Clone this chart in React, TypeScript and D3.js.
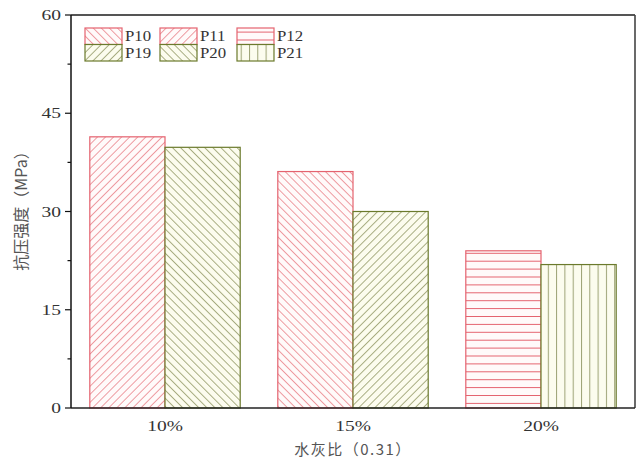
import React from "react";
import * as d3 from "d3";

// Categories (water-cement ratio replacement levels) and strengths in MPa
const categories = ["10%", "15%", "20%"];
const redValues = [41.4, 36.1, 24.0];
const greenValues = [39.8, 30.0, 21.9];
const redBarPatterns = ["fwd", "back", "horiz"];
const greenBarPatterns = ["back", "fwd", "vert"];

const yTicks = [0, 15, 30, 45, 60];
const yMinorTicks = [7.5, 22.5, 37.5, 52.5];

const legendLabels = ["P10", "P11", "P12", "P19", "P20", "P21"];
const legendPatterns = ["back", "fwd", "horiz", "fwd", "back", "vert"];
const legendColors = ["red", "red", "red", "green", "green", "green"];

const W = 638;
const H = 460;
const M = { left: 71, right: 635, top: 15, bottom: 408 };

const COLORS: Record<string, { stroke: string; hatch: string; fill: string }> = {
  red: { stroke: "#e4636f", hatch: "#ec8d94", fill: "#fffafa" },
  green: { stroke: "#6b7a2c", hatch: "#9ca274", fill: "#fcfcee" },
};

const serif = "'Liberation Serif', 'DejaVu Serif', serif";
const cjk = "'Noto Sans CJK SC', 'Noto Sans', sans-serif";

// "fwd" = rising lines (/), "back" = falling lines (\)
function HatchPattern({ id, kind, color }: { id: string; kind: string; color: string }) {
  const c = COLORS[color];
  if (kind === "horiz") {
    return (
      <pattern id={id} patternUnits="userSpaceOnUse" width={10} height={7.9}>
        <rect width={10} height={7.9} fill={c.fill} />
        <line x1={0} y1={0.5} x2={10} y2={0.5} stroke={c.stroke} strokeWidth={1} />
      </pattern>
    );
  }
  if (kind === "vert") {
    return (
      <pattern id={id} patternUnits="userSpaceOnUse" width={8.3} height={10}>
        <rect width={8.3} height={10} fill={c.fill} />
        <line x1={0.5} y1={0} x2={0.5} y2={10} stroke={c.hatch} strokeWidth={1} />
      </pattern>
    );
  }
  const s = 5.7;
  return (
    <pattern
      id={id}
      patternUnits="userSpaceOnUse"
      width={s}
      height={10}
      patternTransform={`rotate(${kind === "fwd" ? 45 : -45})`}
    >
      <rect width={s} height={10} fill={c.fill} />
      <line x1={0.5} y1={0} x2={0.5} y2={10} stroke={c.hatch} strokeWidth={0.9} />
    </pattern>
  );
}

// serif labels drawn slightly widened
function WideText({
  x,
  y,
  anchor,
  size,
  stretch = 1.3,
  children,
}: {
  x: number;
  y: number;
  anchor: "start" | "middle" | "end";
  size: number;
  stretch?: number;
  children: React.ReactNode;
}) {
  return (
    <g transform={`translate(${x},${y}) scale(${stretch},1)`}>
      <text x={0} y={0} textAnchor={anchor} fontFamily={serif} fontSize={size} fill="#333">
        {children}
      </text>
    </g>
  );
}

export default function App() {
  const x = d3
    .scaleBand<string>()
    .domain(categories)
    .range([M.left, M.right])
    .paddingInner(0.2)
    .paddingOuter(0.1);
  const inner = d3
    .scaleBand<string>()
    .domain(["red", "green"])
    .range([0, x.bandwidth()]);
  const y = d3.scaleLinear().domain([0, 60]).range([M.bottom, M.top]);

  const patternDefs: { id: string; kind: string; color: string }[] = [];
  ["fwd", "back", "horiz", "vert"].forEach((k) =>
    ["red", "green"].forEach((c) => patternDefs.push({ id: `p-${k}-${c}`, kind: k, color: c }))
  );

  const bars: { key: string; x: number; y: number; w: number; h: number; color: string; kind: string }[] = [];
  categories.forEach((cat, i) => {
    bars.push({
      key: `r${i}`,
      x: (x(cat) ?? 0) + (inner("red") ?? 0),
      y: y(redValues[i]),
      w: inner.bandwidth(),
      h: y(0) - y(redValues[i]),
      color: "red",
      kind: redBarPatterns[i],
    });
    bars.push({
      key: `g${i}`,
      x: (x(cat) ?? 0) + (inner("green") ?? 0),
      y: y(greenValues[i]),
      w: inner.bandwidth(),
      h: y(0) - y(greenValues[i]),
      color: "green",
      kind: greenBarPatterns[i],
    });
  });

  const legendCols = [85, 160, 237];
  const legendRows = [28, 44.5];
  const swW = 37;
  const swH = 16.5;

  return (
    <svg
      width={W}
      height={H}
      style={{ position: "absolute", left: 0, top: 0, background: "#fff" }}
    >
      <defs>
        {patternDefs.map((p) => (
          <HatchPattern key={p.id} {...p} />
        ))}
      </defs>
      <rect width={W} height={H} fill="#fff" />

      {/* bars */}
      {bars.map((b) => (
        <rect
          key={b.key}
          x={b.x}
          y={b.y}
          width={b.w}
          height={b.h}
          fill={`url(#p-${b.kind}-${b.color})`}
          stroke={COLORS[b.color].stroke}
          strokeWidth={1.2}
        />
      ))}

      {/* frame */}
      <line x1={M.left} y1={M.top} x2={M.right} y2={M.top} stroke="#555" strokeWidth={2} />
      <line x1={M.right} y1={M.top} x2={M.right} y2={M.bottom} stroke="#444" strokeWidth={1.6} />
      <line x1={M.left} y1={M.bottom} x2={M.right} y2={M.bottom} stroke="#222" strokeWidth={1.6} />
      <line x1={M.left} y1={M.top} x2={M.left} y2={M.bottom} stroke="#111" strokeWidth={1.5} />

      {/* y ticks */}
      {yTicks.map((t) => (
        <g key={t}>
          <line x1={M.left - 6} x2={M.left} y1={y(t)} y2={y(t)} stroke="#111" strokeWidth={1.2} />
          <WideText x={61} y={y(t) + 5} anchor="end" size={15}>
            {t}
          </WideText>
        </g>
      ))}
      {yMinorTicks.map((t) => (
        <line key={t} x1={M.left - 3.5} x2={M.left} y1={y(t)} y2={y(t)} stroke="#111" strokeWidth={1.2} />
      ))}

      {/* x tick labels */}
      {categories.map((c) => (
        <WideText key={c} x={(x(c) ?? 0) + x.bandwidth() / 2} y={431} anchor="middle" size={15}>
          {c}
        </WideText>
      ))}

      {/* axis titles */}
      <text
        x={(M.left + M.right) / 2}
        y={455}
        textAnchor="middle"
        fontFamily={cjk}
        fontSize={15}
        letterSpacing={1.5}
        fill="#555"
      >
        水灰比（0.31）
      </text>
      <text
        transform={`translate(27, 207) rotate(-90)`}
        textAnchor="middle"
        fontFamily={cjk}
        fontSize={16}
        fill="#555"
      >
        抗压强度（MPa）
      </text>

      {/* legend */}
      {legendLabels.map((lab, i) => {
        const col = i % 3;
        const row = Math.floor(i / 3);
        const lx = legendCols[col];
        const ly = legendRows[row];
        const color = legendColors[i];
        return (
          <g key={lab}>
            <rect
              x={lx}
              y={ly}
              width={swW}
              height={swH}
              fill={`url(#p-${legendPatterns[i]}-${color})`}
              stroke={COLORS[color].stroke}
              strokeWidth={1.2}
            />
            <WideText x={lx + swW + 3} y={ly + swH / 2 + 5} anchor="start" size={14} stretch={1.2}>
              {lab}
            </WideText>
          </g>
        );
      })}
    </svg>
  );
}
